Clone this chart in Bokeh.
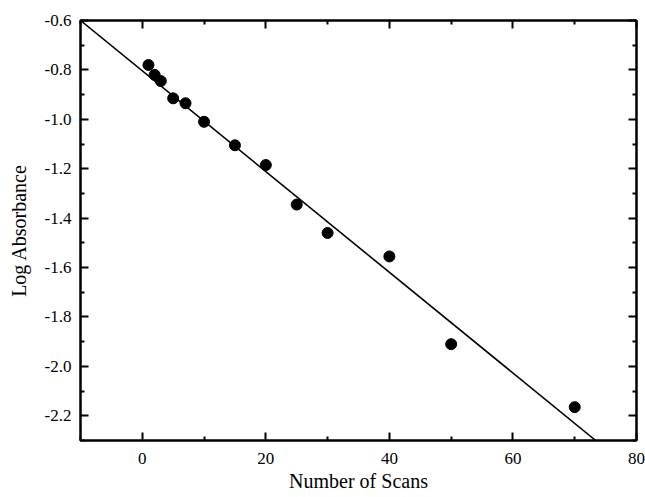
from bokeh.plotting import figure
from bokeh.models import LinearAxis, FixedTicker, NumeralTickFormatter, Range1d
from bokeh.embed import file_html
from bokeh.resources import INLINE

scans = [1, 2, 3, 5, 7, 10, 15, 20, 25, 30, 40, 50, 70]
log_abs = [-0.78, -0.82, -0.845, -0.915, -0.935, -1.01, -1.105, -1.185,
           -1.345, -1.46, -1.555, -1.91, -2.165]
fit_x = [-10, 73.4]
fit_y = [-0.6, -2.3]
x_ticks = [0, 20, 40, 60, 80]
y_ticks = [-2.2, -2.0, -1.8, -1.6, -1.4, -1.2, -1.0, -0.8, -0.6]

FONT = "Liberation Serif"

p = figure(width=645, height=497, output_backend="svg", toolbar_location=None,
           x_range=Range1d(-10, 80), y_range=Range1d(-2.3, -0.6),
           min_border_left=80, min_border_right=9, min_border_top=20,
           min_border_bottom=57, x_axis_location=None, y_axis_location=None)

p.grid.visible = False
p.outline_line_color = "black"
p.outline_line_width = 2
p.background_fill_color = "white"
p.border_fill_color = "white"

def style(ax, labels=True):
    ax.axis_line_width = 2
    ax.axis_line_color = "black"
    ax.major_tick_in = 8
    ax.major_tick_out = 0
    ax.minor_tick_in = 4
    ax.minor_tick_out = 0
    ax.major_tick_line_width = 2
    ax.minor_tick_line_width = 2
    ax.major_label_text_font = FONT
    ax.major_label_text_font_size = "17px"
    ax.major_label_text_color = "black"
    ax.axis_label_text_font = FONT
    ax.axis_label_text_font_size = "20px"
    ax.axis_label_text_font_style = "normal"
    ax.axis_label_text_color = "black"
    if not labels:
        ax.major_label_text_font_size = "0px"
        ax.major_label_text_alpha = 0

xt = FixedTicker(ticks=x_ticks, minor_ticks=[-10, 10, 30, 50, 70])
yt = FixedTicker(ticks=y_ticks, minor_ticks=[-2.3, -2.1, -1.9, -1.7, -1.5, -1.3, -1.1, -0.9, -0.7])

xb = LinearAxis(ticker=xt, axis_label="Number of Scans")
style(xb)
xb.major_label_standoff = 12
xb.axis_label_standoff = 3
p.add_layout(xb, "below")

xa = LinearAxis(ticker=xt)
style(xa, labels=False)
p.add_layout(xa, "above")

yl = LinearAxis(ticker=yt, axis_label="Log Absorbance",
                formatter=NumeralTickFormatter(format="0.0"))
style(yl)
yl.major_label_standoff = 9
yl.axis_label_standoff = 12
p.add_layout(yl, "left")

yr = LinearAxis(ticker=yt)
style(yr, labels=False)
p.add_layout(yr, "right")

p.line(fit_x, fit_y, line_color="black", line_width=1.6)
p.scatter(scans, log_abs, size=11, fill_color="black", line_color="black")

open("out.html", "w").write(file_html(p, INLINE))
